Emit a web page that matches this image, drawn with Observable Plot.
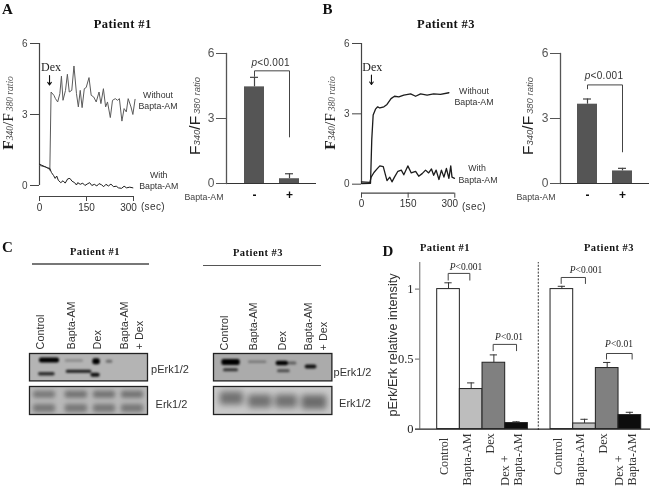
<!DOCTYPE html>
<html><head><meta charset="utf-8">
<script src="https://cdn.jsdelivr.net/npm/d3@7"></script>
<script src="https://cdn.jsdelivr.net/npm/@observablehq/plot@0.6"></script>
<style>
html,body{margin:0;padding:0;background:#fff}
#c{position:relative;width:650px;height:488px;overflow:hidden;filter:blur(0.45px)}
#c svg{position:absolute;overflow:visible;max-width:none}
.t{position:absolute;white-space:nowrap;line-height:1}
.s{font-family:"Liberation Serif",serif}.a{font-family:"Liberation Sans",sans-serif}
</style></head><body><div id="c"></div>
<script>
// Panel A, patient #1 traces (time in s, F340/F380 ratio)
const a1WithoutT=[0,8,19,30,33,37,46,51,58,65,70,75,83,89,95,103,110,118,124,130,136,143,149,158,165,173,181,190,196,204,211,217,226,233,242,249,255,263,270,277,283,292,298,305];
const a1WithoutY=[.85,.82,.78,.71,.64,3.95,3.81,3.67,3.53,3.88,4.62,3.6,4.02,4.7,3.95,4.02,5.05,3.88,3.32,4.02,3.29,4.09,4.14,4.56,3.81,3.74,3.53,3.95,3.46,4.09,3.32,3.53,2.87,3.6,3.67,3.6,3.67,2.72,3.25,3.11,3.67,3.32,3,3.64];
const a1WithT=[0,8,17,25,33,38,45,50,55,60,68,75,82,90,97,104,112,118,122,130,138,145,152,160,167,175,183,190,198,205,212,220,228,236,245,252,262,270,278,288,298];
const a1WithY=[.9,.85,.8,.75,.72,.55,.42,.3,.4,.22,.12,.2,.1,.28,.3,.18,.12,.02,.12,.05,.1,0,.06,.12,0,.05,-.02,.08,.03,-.05,.05,-.02,.06,-.05,-.03,-.1,-.12,-.03,-.1,-.07,-.1];
// Panel B, patient #3 traces
const b3WithoutT=[0,29,33,37.5,45,52,59,72,82,95,106,120,136,158,174,190,211,232,254,281];
const b3WithoutY=[.03,.04,1.9,2.95,3.2,3.3,3.25,3.3,3.4,3.65,3.75,3.72,3.8,3.85,3.75,3.85,3.8,3.85,3.83,3.9];
const b3WithT=[0,27,31,40,50,59,70,77,82,91,98,106,117,128,136,149,160,174,184,195,206,216,225,232,240,249,257,265,273,281,287,291,299];
const b3WithY=[.1,.08,.3,.5,.65,.78,.75,.4,.15,.3,.1,.3,.55,.6,.4,.78,.48,.55,.34,.45,.6,.48,.65,.38,.6,.2,.6,.3,.67,.25,.78,.3,.25];
// Bar insets of panels A and B
const baptaCats=["-","+"];
const a1Means=[4.46,.22], a1Tops=[4.9,.45];
const b3Means=[3.66,.58], b3Tops=[3.9,.7];
// Panel D
const dCats=["Control","Bapta-AM","Dex","Dex + Bapta-AM"];
const dP1=[1,.286,.474,.043], dP1Top=[1.045,.33,.53,.052];
const dP3=[1,.04,.436,.1], dP3Top=[1.02,.07,.476,.12];
const dFills=["#ffffff","#bdbdbd","#808080","#0d0d0d"];
// Blot densities: [from, to, centre, thickness, density] along the membrane
const p1pErk=[[10,30,7,5,1],[9,25.7,20.7,3.5,.75],[35.7,54,7.5,3,.2],[36.7,62.4,18.3,3,.85],[63.4,70.7,8.3,6,1],[76.7,83.4,8.3,3,.4],[61.4,70.7,21.7,4,.9]];
const p1Erk=[[4,26,8.3,7,.55],[35.7,58,8.3,7,.6],[64,86,8.3,7,.6],[92,114,8.3,7,.6],[4,26,22,8,.55],[35.7,58,22,8,.55],[64,86,22,8,.55],[92,114,22,8,.55]];
const p3pErk=[[8.4,26.7,9,6,1],[10,25,16.7,3,.7],[35,53.4,8.7,2.5,.3],[62.7,75,10,4.5,1],[75,83.4,10,3,.45],[64,76.7,17.7,3,.55],[91.7,103.4,13.4,4,.9]];
const p3Erk=[[6.7,30,12,13,.8],[35,58.4,15,13,.8],[62,84,15,13,.8],[88.4,113.4,16,14,.85]];

const root=document.getElementById("c");
const M=40;
function place(b,o){
  const p=Plot.plot({width:b.x1-b.x0+2*M,height:b.y1-b.y0+2*M,marginLeft:M,marginRight:M,marginTop:M,marginBottom:M,
    style:{background:"transparent",fontFamily:"Liberation Sans"},...o});
  p.style.left=(b.x0-M)+"px";p.style.top=(b.y0-M)+"px";root.appendChild(p);
}
function put(html,x,y,cls,style="",rot=false){
  const d=document.createElement("div");d.className="t "+cls;d.innerHTML=html;
  d.style.cssText=`left:${x}px;top:${y}px;transform:translate(-50%,-50%)${rot?" rotate(-90deg)":""};${style}`;
  root.appendChild(d);
}
const zip=(t,y)=>t.map((v,i)=>({t:v,y:y[i]}));
const bracket=(x1,x2,top,dl,dr,o={})=>Plot.line([[x1,dl],[x1,top],[x2,top],[x2,dr]],{x:"0",y:"1",stroke:"#444",strokeWidth:1,...o});

function trace(b,yMin,withoutData,withData,c1,sw,arrowT){
  place(b,{x:{domain:[0,300]},y:{domain:[yMin,6]},marks:[
    Plot.ruleX([0],{y1:0,y2:6,stroke:"#444",strokeWidth:1.2}),
    Plot.ruleY([yMin],{x1:0,x2:300,stroke:"#444",strokeWidth:1.2}),
    Plot.axisY({ticks:[0,3,6],tickSize:9,tickPadding:3,tickFormat:"d",fontSize:10,label:null,color:"#444"}),
    Plot.axisX({ticks:[0,150,300],tickSize:5,tickFormat:()=>"",label:null,color:"#444"}),
    Plot.text([0,150],{x:d=>d,y:yMin,dy:11,fontSize:10,fill:"#333",letterSpacing:.5}),
    Plot.text([300],{x:d=>d,y:yMin,dy:11,dx:-5,fontSize:10,fill:"#333"}),
    Plot.line(withoutData,{x:"t",y:"y",stroke:c1,strokeWidth:sw}),
    Plot.line(withData,{x:"t",y:"y",stroke:"#1c1c1c",strokeWidth:sw}),
    Plot.arrow([0],{x1:arrowT,x2:arrowT,y1:4.65,y2:4.25,headLength:6,headAngle:70,stroke:"#111",strokeWidth:1.1})
  ]});
}
function bars(b,means,tops,br){
  const rows=baptaCats.map((c,i)=>({c,m:means[i],t:tops[i]}));
  place(b,{x:{domain:baptaCats,paddingInner:.43,paddingOuter:.48},y:{domain:[0,6]},marks:[
    Plot.barY(rows,{x:"c",y:"m",fill:"#555"}),
    Plot.ruleX(rows,{x:"c",y1:"m",y2:"t",stroke:"#444",strokeWidth:1.2}),
    Plot.tickY(rows,{x:"c",y:"t",stroke:"#444",strokeWidth:1.2,insetLeft:6,insetRight:6}),
    Plot.ruleY([0],{stroke:"#333",strokeWidth:1.2}),
    Plot.frame({anchor:"left",stroke:"#555",strokeWidth:1.3}),
    Plot.axisY({ticks:[0,3,6],tickSize:10,tickPadding:2,tickFormat:"d",fontSize:12,label:null,color:"#555"}),
    Plot.axisX({tickSize:0,tickPadding:7,fontSize:12,fontWeight:"bold",label:null,color:"#111"}),
    Plot.line([{c:"-",y:br[1]},{c:"-",y:br[0]},{c:"+",y:br[0]},{c:"+",y:br[2]}],{x:"c",y:"y",stroke:"#444",strokeWidth:1})
  ]});
}
function blot(b,bands,bg,dark,blur){
  const rows=bands.map(d=>({x1:d[0],x2:d[1],y1:d[2]-d[3]/2,y2:d[2]+d[3]/2,v:d[4]}));
  place(b,{x:{domain:[0,b.x1-b.x0],axis:null},y:{domain:[b.y1-b.y0,0],axis:null},
    color:{type:"linear",domain:[0,1],range:[bg,dark]},marks:[
    Plot.frame({fill:bg,stroke:"none"}),
    Plot.rect(rows,{x1:"x1",x2:"x2",y1:"y1",y2:"y2",fill:"v",r:2,clip:"frame",imageFilter:`blur(${blur}px)`}),
    Plot.frame({stroke:"#222",strokeWidth:1.3})
  ]});
}

// Panels A and B: traces
trace({x0:39,x1:133,y0:43,y1:196},-.465,zip(a1WithoutT,a1WithoutY),zip(a1WithT,a1WithY),"#5a5a5a",1,32);
trace({x0:361,x1:454.3,y0:43.3,y1:193},-.384,zip(b3WithoutT,b3WithoutY),zip(b3WithT,b3WithY),"#1c1c1c",1.3,32);
// Panels A and B: inset bars
bars({x0:226,x1:316,y0:53,y1:183},a1Means,a1Tops,[5.2,4.95,2.15]);
bars({x0:560,x1:649,y0:53.3,y1:183.3},b3Means,b3Tops,[4.55,4.37,1.46]);
// Blots
blot({x0:29.3,x1:147.3,y0:353.3,y1:380.7},p1pErk,"#b4b4b4","#000",1.3);
blot({x0:29.3,x1:147.3,y0:386,y1:414},p1Erk,"#b8b8b8","#444",2);
blot({x0:213.3,x1:331.7,y0:353.3,y1:380.7},p3pErk,"#ababab","#000",1.3);
blot({x0:213.3,x1:331.7,y0:386,y1:414},p3Erk,"#c9c9c9","#5a5a5a",3);

// Panel D
const slots=[0,1,2,3,5,6,7,8];
const dRows=[...dP1,...dP3].map((v,i)=>({s:slots[i],v,top:[...dP1Top,...dP3Top][i],fill:dFills[i%4],cat:dCats[i%4]}));
const serif="Liberation Serif";
place({x0:415,x1:650,y0:261.7,y1:428.3},{x:{domain:[-.957,9.41]},y:{domain:[0,1.19]},marks:[
  Plot.rect(dRows,{x1:"s",x2:d=>d.s+1,y1:0,y2:"v",fill:"fill",stroke:"#222",strokeWidth:1}),
  Plot.ruleX(dRows,{x:d=>d.s+.5,y1:"v",y2:"top",stroke:"#333"}),
  Plot.ruleY(dRows,{y:"top",x1:d=>d.s+.34,x2:d=>d.s+.66,stroke:"#333"}),
  Plot.ruleX([-.768],{y1:0,y2:1.19,stroke:"#666"}),
  Plot.ruleY([.5,1],{x1:-.957,x2:-.768,stroke:"#666"}),
  Plot.ruleY([0],{x1:-.957,x2:9.41,stroke:"#222",strokeWidth:1.4}),
  Plot.ruleX([4.46],{y1:-.01,y2:1.19,stroke:"#333",strokeDasharray:"2,1.4"}),
  Plot.axisY({ticks:[0,.5,1],tickSize:0,tickPadding:2,tickFormat:d=>String(d),fontSize:12.5,fontFamily:serif,label:null,color:"#222"}),
  Plot.axisX({ticks:[],label:null}),
  bracket(.485,1.44,1.112,1.064,1.064),bracket(2.47,3.5,.605,.56,.56),
  bracket(5.47,6.54,1.083,1.04,1.04),bracket(7.47,8.6,.54,.5,.5),
  Plot.text(dRows.filter(d=>d.s%5<3),{x:d=>d.s+.5,y:d=>d.cat==="Control"?-.062:-.03,text:"cat",rotate:-90,textAnchor:"end",dx:-4,fontFamily:serif,fontSize:12.2,fill:"#333",letterSpacing:.3}),
  Plot.text(dRows.filter(d=>d.s%5===3),{x:d=>d.s+.5,y:-.03,text:()=>"Bapta-AM",rotate:-90,textAnchor:"end",dx:2,fontFamily:serif,fontSize:12.2,fill:"#333",letterSpacing:.3}),
  Plot.text(dRows.filter(d=>d.s%5===3),{x:d=>d.s+.5,y:-.404,text:()=>"Dex +",rotate:-90,textAnchor:"start",dx:-11,fontFamily:serif,fontSize:12.2,fill:"#333",letterSpacing:.3})
]});

// Text
const lt="font-weight:bold;font-size:15px;color:#111";
put("A",7.5,8.5,"s",lt);put("B",327.5,8.5,"s",lt);put("C",7.5,247,"s",lt);put("D",388,251,"s",lt);
const tt="font-weight:bold;font-size:12.5px;color:#111;letter-spacing:.4px";
put("Patient #1",122.7,23.5,"s",tt);put("Patient #3",446,23.5,"s",tt);
const ts="font-weight:bold;font-size:10.5px;color:#111;letter-spacing:.5px";
put("Patient #1",95,252,"s",ts);put("Patient #3",258,253,"s",ts);put("Patient #1",445,248,"s",ts);put("Patient #3",609,248,"s",ts);
put("Dex",51,67,"s","font-size:12px;color:#222");put("Dex",372.3,67,"s","font-size:12px;color:#222");
const lb="font-size:8.8px;color:#333";
put("Without",158,95,"a",lb);put("Bapta-AM",158,106,"a",lb);put("With",158.7,175,"a",lb);put("Bapta-AM",158.7,186,"a",lb);
put("Without",474,91,"a",lb);put("Bapta-AM",474,101.7,"a",lb);put("With",477,168.3,"a",lb);put("Bapta-AM",478,180,"a",lb);
const sec="font-size:10px;color:#333;letter-spacing:.4px";put("(sec)",153,207,"a",sec);put("(sec)",474,207,"a",sec);
const fs=(a)=>`<span style="font-size:15.5px;color:#222;font-weight:${a?"normal":"bold"}">F</span><i style="font-size:9.5px;color:#444">340</i><span style="font-size:15.5px;color:#222">/F</span><i style="font-size:9.5px;color:#555">&thinsp;380 ratio</i>`;
put(fs(false),8,112.5,"s","",true);put(fs(false),330,112.5,"s","",true);
put(fs(true),194.5,115.5,"a","",true);put(fs(true),528,116,"a","",true);
const ba="font-size:8.8px;color:#444";put("Bapta-AM",204,197,"a",ba);put("Bapta-AM",536,197,"a",ba);
const pv="font-size:10px;color:#333;letter-spacing:.3px";
put("<i>p</i>&lt;0.001",270.7,63.3,"a",pv);put("<i>p</i>&lt;0.001",604,76,"a",pv);
const pd="font-size:9.5px;color:#222";
put("<i>P</i>&lt;0.001",466,267.7,"s",pd);put("<i>P</i>&lt;0.01",509,337.7,"s",pd);put("<i>P</i>&lt;0.001",586,271,"s",pd);put("<i>P</i>&lt;0.01",619,345,"s",pd);
put("pErk/Erk relative intensity",392.5,345,"a","font-size:12.7px;color:#333",true);
// Rules over the blots
const rl=(x0,x1,y,c,w)=>{const d=document.createElement("div");d.style.cssText=`position:absolute;left:${x0}px;top:${y-w/2}px;width:${x1-x0}px;height:${w}px;background:${c}`;root.appendChild(d);};
rl(32,149,264,"#777",2);rl(203,320.7,265,"#555",1);
// Lane labels
const ll="font-size:10.8px;color:#333";
const lane=(txt,x,y)=>{const d=document.createElement("div");d.className="t a";d.textContent=txt;d.style.cssText=`left:${x}px;top:${y}px;transform:rotate(-90deg);transform-origin:0 50%;${ll}`;root.appendChild(d);};
[["Control",40],["Bapta-AM",70.7],["Dex",97.3],["Bapta-AM",124],["+ Dex",139]].forEach(([t,x])=>lane(t,x,344));
[["Control",224],["Bapta-AM",253.3],["Dex",281.7],["Bapta-AM",307.7],["+ Dex",322.7]].forEach(([t,x])=>lane(t,x,345));
const bl="font-size:11px;color:#333";
put("pErk1/2",170,369,"a",bl);put("Erk1/2",171.5,404,"a",bl);put("pErk1/2",352.5,372,"a",bl);put("Erk1/2",355,403,"a",bl);
</script></body></html>
